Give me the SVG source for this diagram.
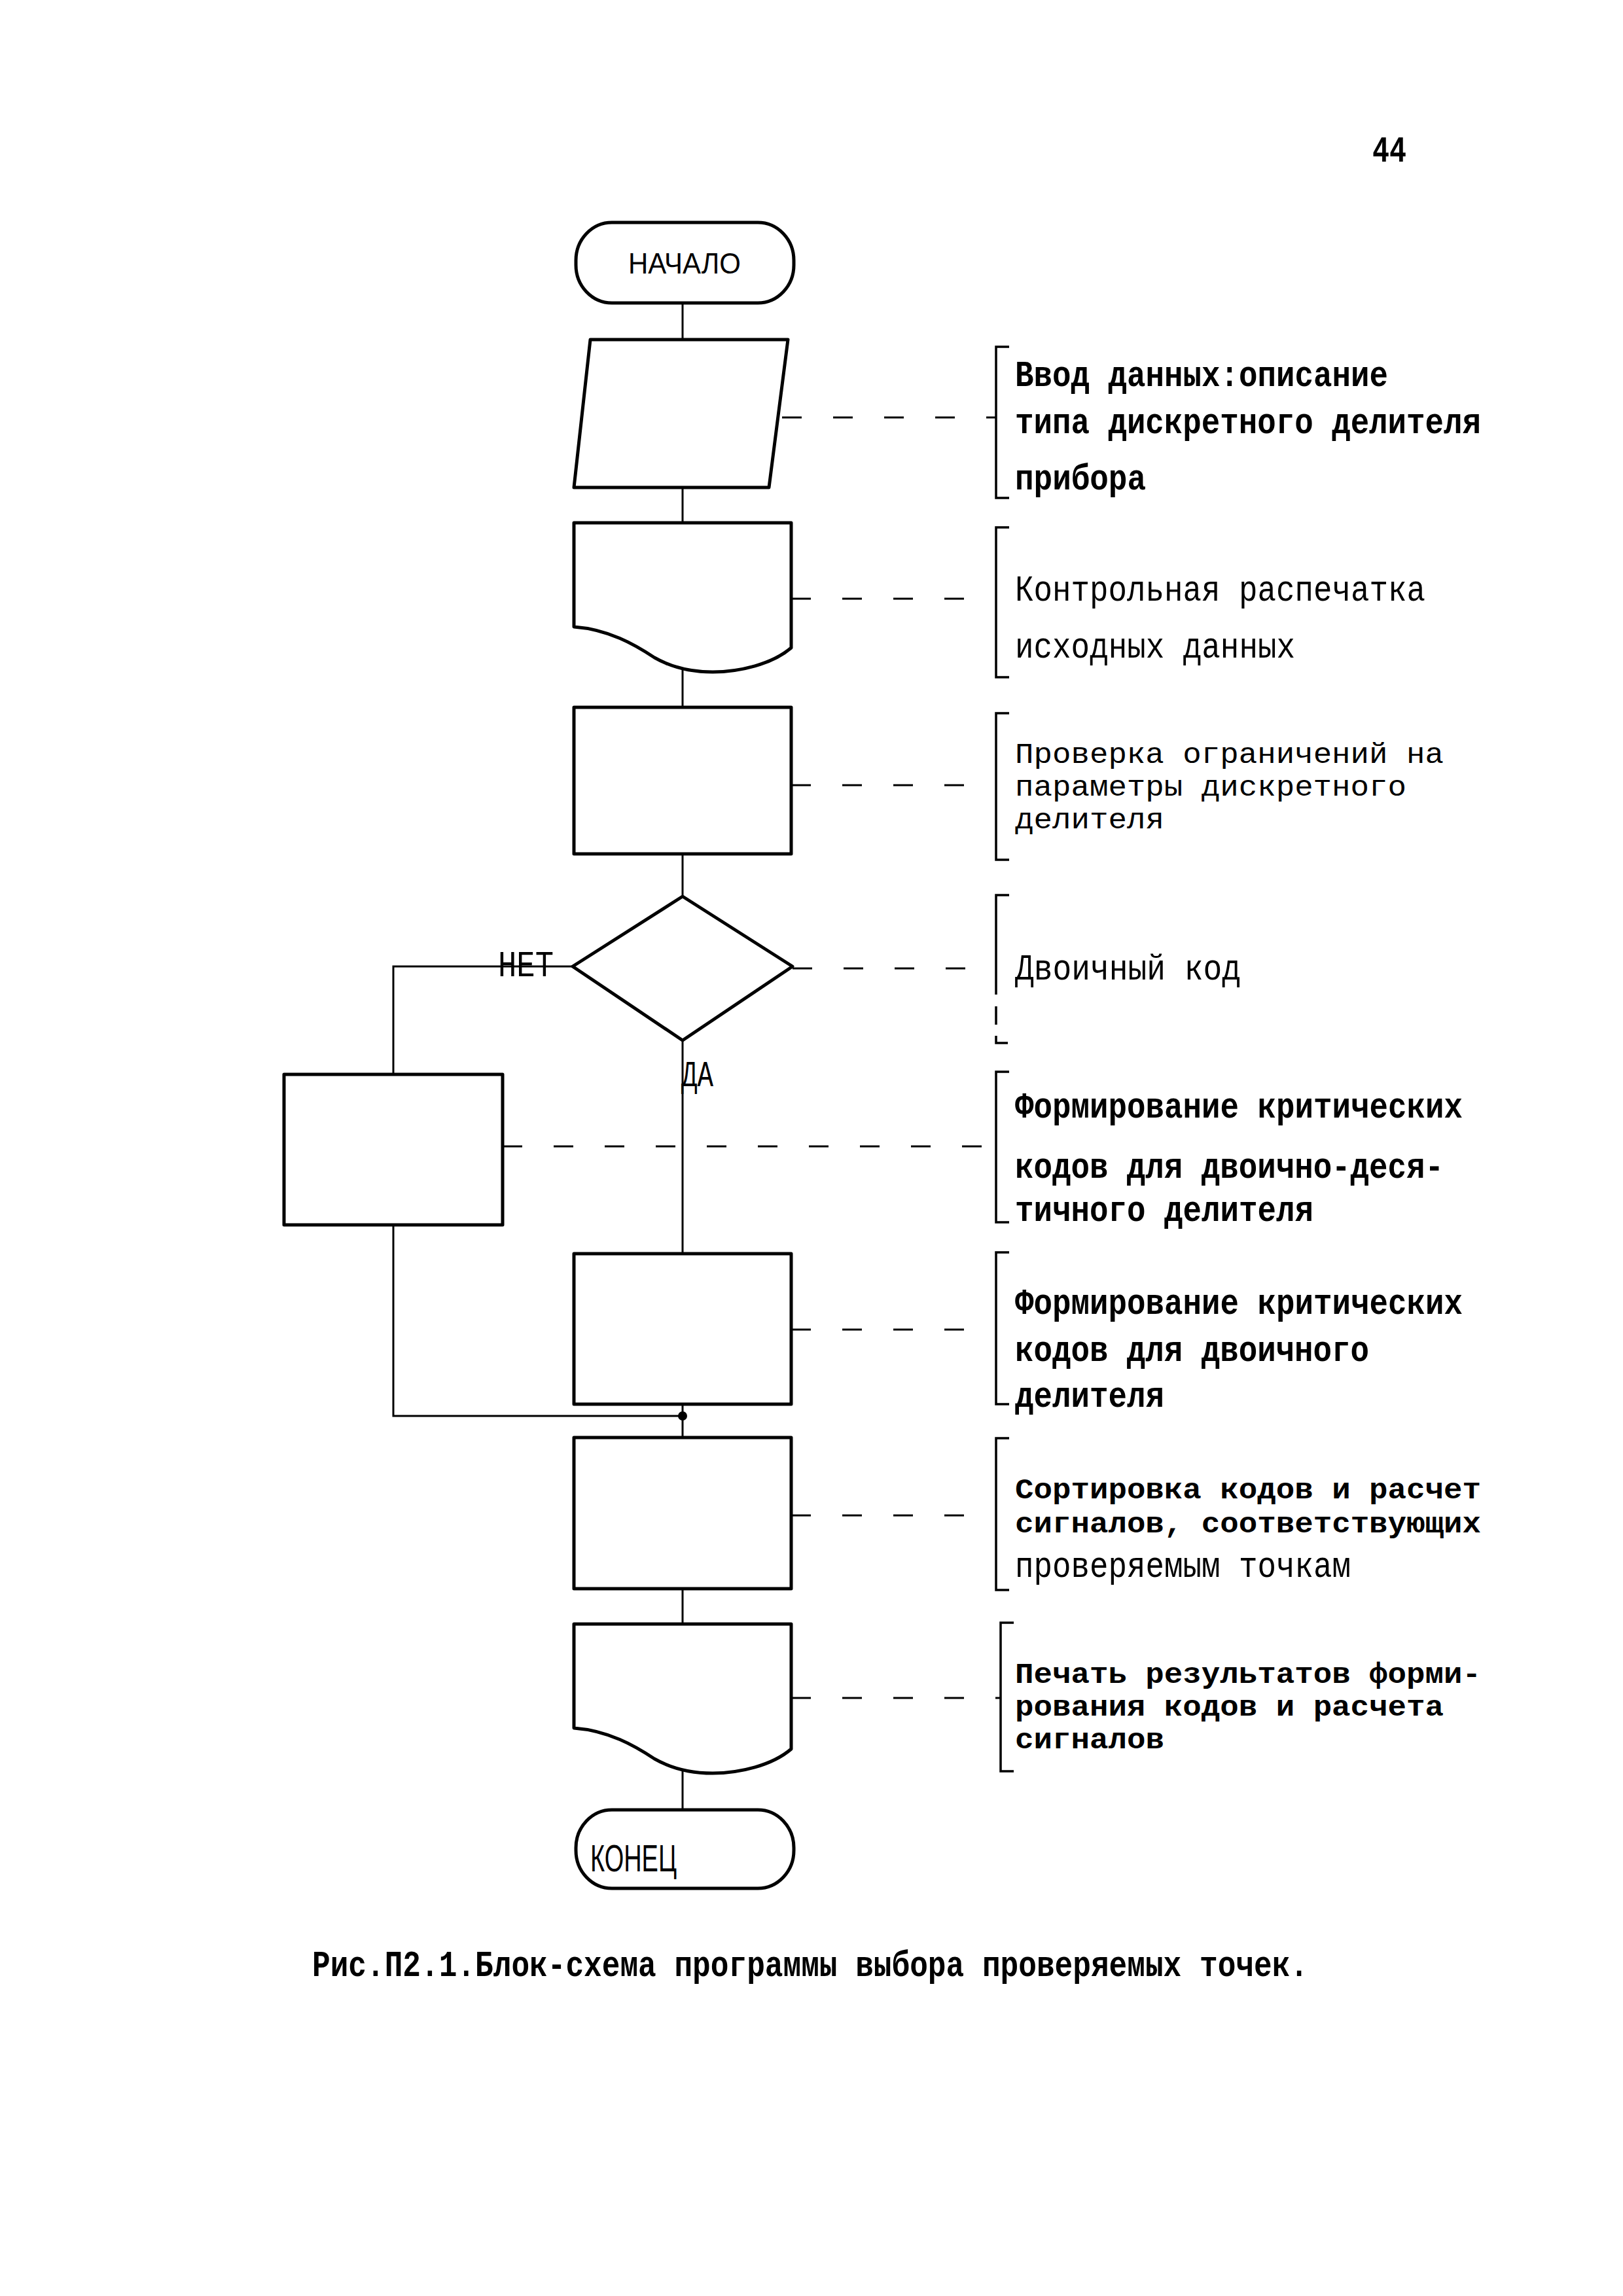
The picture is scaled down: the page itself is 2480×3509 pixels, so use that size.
<svg xmlns="http://www.w3.org/2000/svg" width="2480" height="3509" viewBox="0 0 2480 3509">
<style>
.bg{fill:#fff}
.sh{fill:#fff;stroke:#000;stroke-width:5;stroke-linejoin:round}
.ln{fill:none;stroke:#000;stroke-width:3}
.ds{fill:none;stroke:#000;stroke-width:3;stroke-dasharray:30 48}
.br{fill:none;stroke:#000;stroke-width:3.5}
.t{font-family:"Liberation Mono","DejaVu Sans Mono",monospace;font-size:56px;font-weight:bold;fill:#000}
.tn{font-family:"Liberation Mono","DejaVu Sans Mono",monospace;font-size:56px;font-weight:normal;fill:#000}
.sm{font-size:44px}
.lb{font-family:"Liberation Sans","DejaVu Sans",sans-serif;fill:#000}
</style>
<defs>
<path id="doc" d="M 877 0 H 1209 V 191 C 1180 216 1130 228 1089 228 C 1060 228 1030 223 1000 206 C 970 186 930 163 877 159 Z"/>
</defs>
<rect class="bg" x="0" y="0" width="2480" height="3509"/>

<text class="t" x="2097" y="247" textLength="52" lengthAdjust="spacingAndGlyphs">44</text>

<g id="connectors">
<path class="ln" d="M 1043 463 V 519"/>
<path class="ln" d="M 1043 745 V 799"/>
<path class="ln" d="M 1043 1020 V 1081"/>
<path class="ln" d="M 1043 1305 V 1370"/>
<path class="ln" d="M 1043 1590 V 1916"/>
<path class="ln" d="M 875 1477 H 601 V 1642"/>
<path class="ln" d="M 601 1872 V 2164 H 1043"/>
<circle cx="1043" cy="2164" r="7" fill="#000"/>
<path class="ln" d="M 1043 2146 V 2197"/>
<path class="ln" d="M 1043 2428 V 2482"/>
<path class="ln" d="M 1043 2700 V 2766"/>
<path class="ds" d="M 1195 638 H 1522"/>
<path class="ds" d="M 1209 915 H 1522"/>
<path class="ds" d="M 1209 1200 H 1522"/>
<path class="ds" d="M 1211 1480 H 1522"/>
<path class="ds" d="M 768 1752 H 1522"/>
<path class="ds" d="M 1209 2032 H 1522"/>
<path class="ds" d="M 1209 2316 H 1522"/>
<path class="ds" d="M 1209 2595 H 1529"/>
</g>

<g id="start">
<rect class="sh" x="880" y="340" width="333" height="123" rx="55" ry="58"/>
<text class="lb" x="1046" y="418" font-size="44" text-anchor="middle" textLength="172" lengthAdjust="spacingAndGlyphs">НАЧАЛО</text>
</g>

<g id="input">
<polygon class="sh" points="902,519 1204,519 1175,745 877,745"/>
</g>
<g id="note-input">
<path class="br" d="M 1542 530 H 1522 V 761 H 1542"/>
<text class="t" x="1551" y="590" textLength="570" lengthAdjust="spacingAndGlyphs">Ввод данных:описание</text>
<text class="t" x="1551" y="662" textLength="712" lengthAdjust="spacingAndGlyphs">типа дискретного делителя</text>
<text class="t" x="1551" y="748" textLength="200" lengthAdjust="spacingAndGlyphs">прибора</text>
</g>

<g id="print1">
<use href="#doc" class="sh" transform="translate(0,799)"/>
</g>
<g id="note-print1">
<path class="br" d="M 1542 806 H 1522 V 1035 H 1542"/>
<text class="tn" x="1551" y="918" textLength="627" lengthAdjust="spacingAndGlyphs">Контрольная распечатка</text>
<text class="tn" x="1551" y="1005" textLength="428" lengthAdjust="spacingAndGlyphs">исходных данных</text>
</g>

<g id="check">
<rect class="sh" x="877" y="1081" width="332" height="224"/>
</g>
<g id="note-check">
<path class="br" d="M 1542 1090 H 1522 V 1314 H 1542"/>
<text class="tn sm" x="1551" y="1166" textLength="655" lengthAdjust="spacingAndGlyphs">Проверка ограничений на</text>
<text class="tn sm" x="1551" y="1216" textLength="598" lengthAdjust="spacingAndGlyphs">параметры дискретного</text>
<text class="tn sm" x="1551" y="1266" textLength="228" lengthAdjust="spacingAndGlyphs">делителя</text>
</g>

<g id="decision">
<polygon class="sh" points="1043,1370 1211,1477 1043,1590 875,1477"/>
<text class="tn" x="761" y="1492" textLength="85" lengthAdjust="spacingAndGlyphs">НЕТ</text>
<text class="tn" x="1041" y="1660" textLength="49" lengthAdjust="spacingAndGlyphs">ДА</text>
</g>
<g id="note-decision">
<path class="br" d="M 1542 1368 H 1522 V 1520 M 1522 1538 V 1566 M 1522 1583 V 1594 H 1540"/>
<text class="tn" x="1551" y="1497" textLength="345" lengthAdjust="spacingAndGlyphs">Двоичный код</text>
</g>

<g id="bcd">
<rect class="sh" x="434" y="1642" width="334" height="230"/>
</g>
<g id="note-bcd">
<path class="br" d="M 1542 1638 H 1522 V 1868 H 1542"/>
<text class="t" x="1551" y="1708" textLength="684" lengthAdjust="spacingAndGlyphs">Формирование критических</text>
<text class="t" x="1551" y="1800" textLength="655" lengthAdjust="spacingAndGlyphs">кодов для двоично-деся-</text>
<text class="t" x="1551" y="1866" textLength="456" lengthAdjust="spacingAndGlyphs">тичного делителя</text>
</g>

<g id="binary">
<rect class="sh" x="877" y="1916" width="332" height="230"/>
</g>
<g id="note-binary">
<path class="br" d="M 1542 1914 H 1522 V 2146 H 1542"/>
<text class="t" x="1551" y="2008" textLength="684" lengthAdjust="spacingAndGlyphs">Формирование критических</text>
<text class="t" x="1551" y="2080" textLength="541" lengthAdjust="spacingAndGlyphs">кодов для двоичного</text>
<text class="t" x="1551" y="2150" textLength="228" lengthAdjust="spacingAndGlyphs">делителя</text>
</g>

<g id="sort">
<rect class="sh" x="877" y="2197" width="332" height="231"/>
</g>
<g id="note-sort">
<path class="br" d="M 1542 2198 H 1522 V 2430 H 1542"/>
<text class="t sm" x="1551" y="2290" textLength="712" lengthAdjust="spacingAndGlyphs">Сортировка кодов и расчет</text>
<text class="t sm" x="1551" y="2342" textLength="712" lengthAdjust="spacingAndGlyphs">сигналов, соответствующих</text>
<text class="tn" x="1551" y="2410" textLength="513" lengthAdjust="spacingAndGlyphs">проверяемым точкам</text>
</g>

<g id="print2">
<use href="#doc" class="sh" transform="translate(0,2482)"/>
</g>
<g id="note-print2">
<path class="br" d="M 1549 2480 H 1529 V 2707 H 1549"/>
<text class="t sm" x="1551" y="2572" textLength="712" lengthAdjust="spacingAndGlyphs">Печать результатов форми-</text>
<text class="t sm" x="1551" y="2622" textLength="655" lengthAdjust="spacingAndGlyphs">рования кодов и расчета</text>
<text class="t sm" x="1551" y="2672" textLength="228" lengthAdjust="spacingAndGlyphs">сигналов</text>
</g>

<g id="end">
<rect class="sh" x="880" y="2766" width="333" height="120" rx="55" ry="58"/>
<text class="lb" x="902" y="2860" font-size="58" textLength="132" lengthAdjust="spacingAndGlyphs">КОНЕЦ</text>
</g>

<text class="t" x="477" y="3020" textLength="1522" lengthAdjust="spacingAndGlyphs">Рис.П2.1.Блок-схема программы выбора проверяемых точек.</text>
</svg>
